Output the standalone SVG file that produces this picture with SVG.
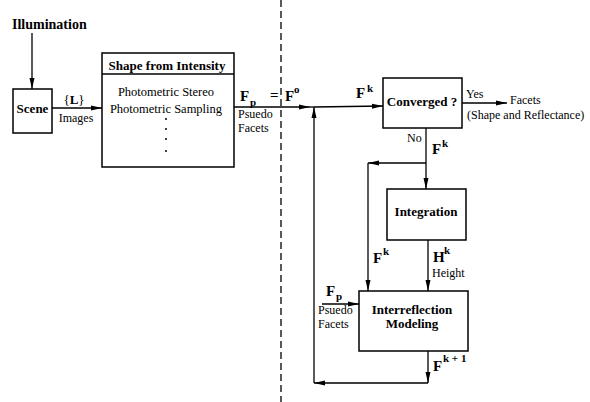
<svg xmlns="http://www.w3.org/2000/svg" width="590" height="402" viewBox="0 0 590 402">
<style>
  .box { fill: #fff; stroke: #000; stroke-width: 1.5; }
  .ln { fill: none; stroke: #000; stroke-width: 1.3; }
  .arr { fill: none; stroke: #000; stroke-width: 1.3; marker-end: url(#ah); }
  .dash { fill: none; stroke: #000; stroke-width: 1.3; stroke-dasharray: 7 4; }
  text { font-family: "Liberation Serif", "Times New Roman", serif; fill: #000; }
  .b { font-weight: bold; font-size: 13px; }
  .r { font-size: 12px; }
  .v { font-weight: bold; font-size: 15px; }
  .s { font-weight: bold; font-size: 11px; }
  .m { text-anchor: middle; }
</style>
<defs>
  <marker id="ah" markerUnits="userSpaceOnUse" markerWidth="12" markerHeight="8" refX="11" refY="3" orient="auto">
    <path d="M0,0.5 L11,3 L0,5.5 Z" fill="#000"/>
  </marker>
</defs>

<line class="dash" x1="281" y1="0" x2="281" y2="402"/>

<g id="illumination">
  <text class="b" x="12" y="29" style="font-size:14px">Illumination</text>
</g>

<g id="scene">
  <rect class="box" x="13" y="89" width="39" height="44"/>
  <text class="b m" x="32.5" y="113">Scene</text>
</g>

<g id="shape-from-intensity">
  <rect class="box" x="102" y="53" width="132" height="114"/>
  <line class="ln" x1="102" y1="74" x2="234" y2="74" style="stroke-width:1.5"/>
  <text class="b m" x="167" y="70">Shape  from Intensity</text>
  <text class="r m" x="166" y="96" style="font-size:12.5px">Photometric  Stereo</text>
  <text class="r m" x="166" y="113" style="font-size:12.5px">Photometric Sampling</text>
  <circle cx="166" cy="119" r="1" fill="#000"/>
  <circle cx="166" cy="129" r="1" fill="#000"/>
  <circle cx="166" cy="139" r="1" fill="#000"/>
  <circle cx="166" cy="151" r="1" fill="#000"/>
</g>

<g id="converged">
  <rect class="box" x="383" y="78" width="79" height="50"/>
  <text class="b m" x="422" y="106">Converged ?</text>
</g>

<g id="integration">
  <rect class="box" x="387" y="189" width="79" height="51"/>
  <text class="b m" x="426" y="216">Integration</text>
</g>

<g id="interreflection">
  <rect class="box" x="359" y="291" width="109" height="60"/>
  <text class="b m" x="412" y="314">Interreflection</text>
  <text class="b m" x="412" y="328">Modeling</text>
</g>

<g id="connectors">
  <line class="arr" x1="32" y1="33" x2="32" y2="89"/>
  <line class="arr" x1="52" y1="108" x2="102" y2="108"/>
  <polyline class="arr" points="234,107 310,107"/>
  <line class="ln" x1="310" y1="107" x2="314" y2="107"/>
  <line class="arr" x1="314" y1="107" x2="383" y2="106"/>
  <line class="arr" x1="462" y1="103" x2="507" y2="103"/>
  <line class="arr" x1="426" y1="128" x2="426" y2="189"/>
  <line class="arr" x1="426" y1="163" x2="368" y2="163"/>
  <line class="arr" x1="368" y1="163" x2="368" y2="291"/>
  <line class="arr" x1="428" y1="240" x2="428" y2="291"/>
  <line class="arr" x1="322" y1="304" x2="359" y2="304"/>
  <line class="arr" x1="428" y1="351" x2="428" y2="383"/>
  <line class="arr" x1="428" y1="383" x2="314" y2="383"/>
  <line class="arr" x1="314" y1="383" x2="314" y2="107"/>
</g>

<g id="labels">
  <text class="m" x="74" y="104" style="font-size:13px"><tspan>{</tspan><tspan font-weight="bold">L</tspan><tspan>}</tspan></text>
  <text class="r m" x="76" y="122">Images</text>

  <text class="v" x="240" y="101">F</text>
  <text class="s" x="250" y="106">p</text>
  <text class="v" x="270" y="100">=</text>
  <text class="v" x="285" y="101">F</text>
  <text class="s" x="294" y="93">o</text>
  <text class="r" x="238" y="118">Psuedo</text>
  <text class="r" x="238" y="132">Facets</text>

  <text class="v" x="356" y="98">F</text>
  <text class="s" x="367" y="92">k</text>

  <text class="r" x="466" y="98">Yes</text>
  <text class="r" x="510" y="104">Facets</text>
  <text class="r" x="467" y="119">(Shape and Reflectance)</text>

  <text class="r" x="407" y="142">No</text>
  <text class="v" x="432" y="154">F</text>
  <text class="s" x="442" y="147">k</text>

  <text class="v" x="373" y="263">F</text>
  <text class="s" x="383" y="255">k</text>

  <text class="v" x="433" y="262">H</text>
  <text class="s" x="444" y="254">k</text>
  <text class="r" x="432" y="277">Height</text>

  <text class="v" x="326" y="296">F</text>
  <text class="s" x="336" y="300">p</text>
  <text class="r" x="318" y="314">Psuedo</text>
  <text class="r" x="318" y="328">Facets</text>

  <text class="v" x="433" y="371">F</text>
  <text class="s" x="443" y="362">k + 1</text>
</g>
</svg>
